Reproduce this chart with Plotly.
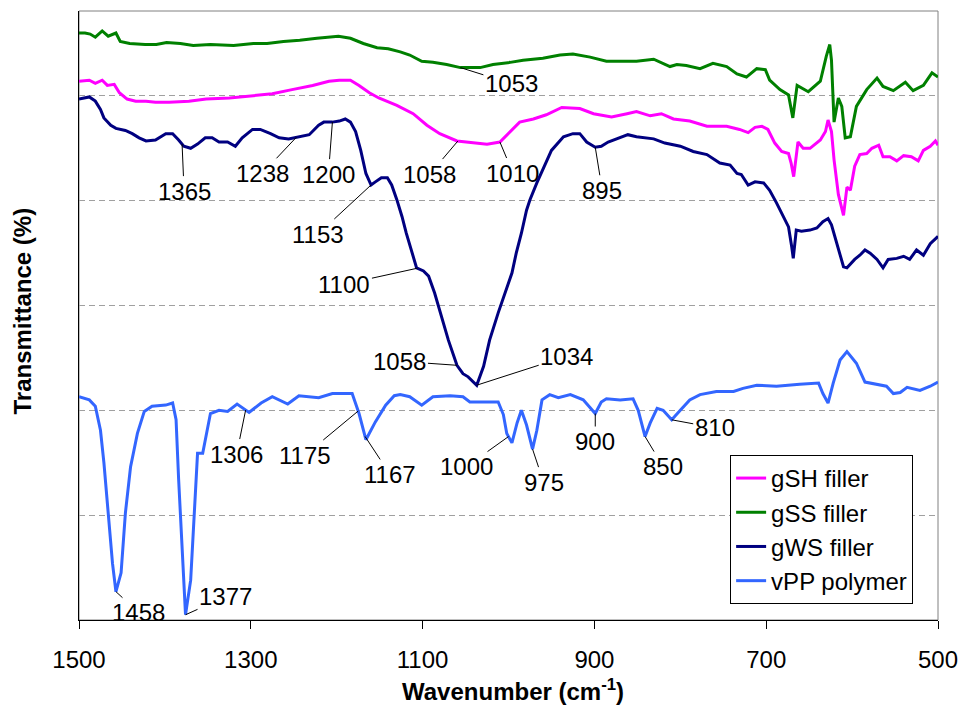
import numpy as np
import plotly.graph_objects as go

# FTIR spectra, wavenumber (cm-1) vs. transmittance (offset, arbitrary units)
wn_gsh = [1500, 1488, 1481, 1473, 1467, 1459, 1453, 1444, 1434, 1422, 1411, 1395, 1372, 1352, 1325,
          1298, 1275, 1252, 1228, 1209, 1197, 1184, 1174, 1162, 1151, 1130, 1111, 1095, 1080, 1060,
          1041, 1025, 1010, 998, 987, 971, 956, 938, 917, 901, 880, 862, 851, 835, 822, 808, 789,
          769, 746, 731, 721, 713, 705, 698, 690, 682, 674, 671, 668, 663, 657, 649, 637, 631, 628,
          624, 621, 616, 610, 606, 602, 597, 591, 583, 577, 569, 564, 556, 548, 540, 531, 523, 517,
          509, 503, 500]
t_gsh = [51.4, 51.5, 51.2, 51.5, 51.0, 51.1, 50.3, 49.7, 49.5, 49.5, 49.4, 49.4, 49.5, 49.7, 49.8,
         50.0, 50.2, 50.6, 51.0, 51.4, 51.5, 51.5, 51.0, 50.3, 49.8, 49.1, 48.3, 47.2, 46.4, 45.7,
         45.5, 45.4, 45.6, 46.6, 47.5, 47.8, 48.2, 48.9, 48.8, 48.3, 48.0, 48.3, 48.5, 48.1, 48.3, 47.8, 47.6,
         47.1, 47.1, 46.8, 46.5, 47.0, 47.1, 46.8, 45.5, 44.7, 44.5, 43.6, 42.3, 45.6, 45.0, 45.0, 45.8, 46.6, 47.7,
         46.6, 43.9, 40.6, 38.6, 41.3, 41.0, 43.3, 44.4, 44.5, 45.0, 45.3, 44.2, 44.2, 43.8, 44.3, 44.2, 43.8, 44.8,
         45.2, 45.7, 45.3]

wn_gss = [1500, 1493, 1487, 1481, 1473, 1466, 1457, 1452, 1441, 1423, 1410, 1398, 1382, 1367, 1347,
          1320, 1297, 1281, 1262, 1243, 1223, 1198, 1184, 1169, 1153, 1140, 1126, 1115, 1101, 1088,
          1072, 1056, 1033, 1018, 998, 983, 960, 940, 925, 905, 886, 862, 851, 831, 812, 804, 793,
          777, 762, 746, 734, 723, 711, 701, 696, 684, 674, 669, 664, 651, 637, 630, 626, 624, 621,
          616, 612, 608, 602, 595, 583, 571, 564, 552, 538, 529, 517, 507, 500]
t_gss = [56.0, 56.0, 55.9, 55.6, 56.2, 55.7, 56.0, 55.2, 55.0, 54.9, 54.9, 55.1, 55.0, 54.8, 54.9,
         54.8, 55.0, 55.0, 55.2, 55.3, 55.5, 55.7, 55.5, 55.0, 54.6, 54.5, 54.2, 53.9, 53.3, 53.2,
         53.0, 52.7, 52.7, 53.0, 53.2, 53.4, 53.6, 53.9, 54.0, 53.7, 53.3, 53.3, 53.3, 53.5, 52.8, 53.0, 52.9,
         52.6, 53.1, 52.8, 52.1, 51.8, 52.6, 52.5, 51.5, 50.6, 50.1, 47.9, 51.0, 50.4, 51.4, 53.8, 54.9, 53.4, 47.5,
         49.8, 49.0, 46.0, 46.1, 49.0, 50.6, 51.7, 50.9, 50.5, 51.3, 50.5, 51.0, 52.2, 51.8]

wn_gws = [1500, 1488, 1481, 1475, 1471, 1463, 1457, 1452, 1446, 1438, 1430, 1422, 1411, 1399, 1391,
          1384, 1378, 1370, 1362, 1353, 1345, 1337, 1327, 1318, 1310, 1298, 1289, 1277, 1267, 1256,
          1244, 1232, 1221, 1215, 1205, 1197, 1190, 1184, 1178, 1172, 1166, 1160, 1155, 1148, 1141,
          1136, 1130, 1124, 1119, 1113, 1107, 1099, 1093, 1086, 1078, 1070, 1060, 1053, 1047, 1037,
          1029, 1022, 1012, 1004, 996, 991, 985, 979, 975, 967, 958, 950, 936, 925, 917, 909, 899,
          892, 884, 874, 861, 851, 831, 818, 800, 785, 769, 754, 742, 734, 729, 721, 713, 703, 696,
          688, 680, 674, 670.3, 668.5, 665, 659, 649, 641, 634, 628, 624, 620, 616, 610, 606, 602,
          597, 591, 585, 579, 571, 564, 558, 548, 540, 533, 525, 517, 509, 500]
t_gws = [49.7, 49.9, 49.5, 48.7, 47.9, 47.2, 46.9, 46.8, 46.7, 46.4, 46.0, 45.7, 45.8, 46.4, 46.4,
         45.8, 45.2, 45.0, 45.4, 46.0, 46.0, 45.6, 45.6, 45.2, 46.0, 46.8, 46.8, 46.4, 46.0, 45.9,
         46.1, 46.3, 47.2, 47.5, 47.5, 47.6, 47.8, 47.5, 46.6, 44.8, 42.6, 41.5, 41.8, 42.2, 42.2,
         41.5, 40.1, 38.5, 36.9, 35.3, 33.6, 33.3, 32.8, 31.2, 28.9, 26.7, 24.3, 23.5, 23.2, 22.4,
         24.2, 26.7, 29.3, 31.2, 33.1, 35.0, 36.9, 39.1, 40.1, 41.7, 43.4, 44.8, 46.1, 46.4, 46.4, 45.6, 45.1,
         45.2, 45.6, 45.9, 46.3, 46.1, 45.9, 45.5, 45.2, 44.7, 44.4, 43.6, 43.4, 42.6, 42.5, 41.5, 41.8, 41.7, 41.0,
         39.8, 38.5, 37.5, 35.6, 34.5, 37.2, 37.1, 37.2, 37.4, 38.0, 38.3, 37.7, 36.6, 35.3, 33.7, 33.6, 34.0,
         34.4, 34.8, 35.3, 35.0, 34.4, 33.6, 34.4, 34.5, 34.7, 34.4, 35.3, 34.8, 35.9, 36.6]

wn_vpp = [1500, 1488, 1481, 1475, 1471, 1467, 1461, 1457, 1451, 1446, 1440, 1432, 1424, 1415, 1399,
          1391, 1387, 1384, 1380, 1376, 1370, 1366, 1362, 1356, 1352, 1347, 1337, 1327, 1316, 1302,
          1288, 1275, 1257, 1244, 1221, 1205, 1182, 1174, 1166, 1155, 1143, 1133, 1126, 1115, 1101,
          1088, 1068, 1053, 1045, 1029, 1012, 1006, 1002, 996, 990, 985, 979, 972, 967, 961, 952,
          942, 928, 913, 899, 892, 886, 870, 855, 849, 841, 835, 827, 820, 810, 800, 789, 777, 758,
          738, 727, 711, 688, 661, 639, 634, 628, 622, 614, 606, 595, 585, 571, 560, 552, 544, 536,
          521, 509, 500]
t_vpp = [21.3, 21.0, 20.4, 18.1, 15.0, 10.8, 5.4, 2.7, 4.5, 10.2, 14.6, 17.8, 19.9, 20.4, 20.5,
         20.7, 19.1, 13.4, 7.0, 0.5, 3.8, 10.2, 15.9, 15.9, 17.5, 19.7, 20.0, 19.9, 20.6, 19.8,
         20.7, 21.3, 20.6, 21.4, 21.2, 21.6, 21.6, 19.7, 17.2, 18.9, 20.5, 21.4, 21.5, 21.3, 20.5,
         21.3, 21.4, 21.3, 20.8, 20.8, 20.8, 19.6, 17.8, 16.9, 18.8, 20.0, 18.6, 16.3, 18.1, 21.0, 21.5,
         21.2, 21.5, 21.0, 19.7, 20.8, 21.1, 21.0, 21.1, 20.0, 17.5, 18.8, 20.2, 20.0, 19.1, 20.0, 21.0, 21.5, 21.8,
         21.8, 22.1, 22.4, 22.3, 22.5, 22.6, 21.6, 20.7, 22.6, 24.8, 25.6, 24.5, 22.7, 22.5, 22.3, 21.6, 21.7, 22.2,
         21.9, 22.3, 22.7]

series_names = ["gSH filler", "gSS filler", "gWS filler", "vPP polymer"]
series_colors = ["#FF00FF", "#008000", "#000080", "#3366FF"]
series_x = [wn_gsh, wn_gss, wn_gws, wn_vpp]
series_y = [t_gsh, t_gss, t_gws, t_vpp]

# Band labels: text, spectrum index, wavenumber the leader points at, text offset (px)
band_text = ["1053", "1365", "1238", "1200", "1058", "1010", "895", "1153", "1100", "1058", "1034",
             "1306", "1175", "1167", "1000", "975", "900", "850", "810", "1458", "1377"]
band_series = [1, 2, 2, 2, 0, 0, 2, 2, 2, 2, 2,
               3, 3, 3, 3, 3, 3, 3, 3, 3, 3]
band_wn = [1056, 1380, 1247, 1205, 1059, 1010, 899, 1160, 1106, 1060, 1037,
           1306, 1175, 1167, 1000, 972, 899, 841, 810, 1457, 1376]
band_dx = [51, 2, -34, -4, -28, 13, 7, -53, -73, -57, 90,
           -9, -53, 25, -42, 11, 0, 18, 43, 23, 40]
band_dy = [16, 47, 36, 52, 33, 31, 43, 49, 16, -4, -29,
           44, 44, 38, 30, 33, 28, 30, 8, 21, -18]

FONT = "Liberation Sans, Arial, sans-serif"

fig = go.Figure()
for name, color, xs, ys in zip(series_names, series_colors, series_x, series_y):
    fig.add_trace(go.Scatter(x=xs, y=ys, mode="lines", name=name,
                             line=dict(color=color, width=3)))

annotations = []
for text, si, w, dx, dy in zip(band_text, band_series, band_wn, band_dx, band_dy):
    xs = np.array(series_x[si], dtype=float)[::-1]
    ys = np.array(series_y[si], dtype=float)[::-1]
    yv = float(np.interp(w, xs, ys))
    annotations.append(dict(x=w, y=yv, xref="x", yref="y", text=text,
                            showarrow=True, arrowhead=0, arrowwidth=1, arrowcolor="black",
                            ax=dx, ay=dy, standoff=0,
                            font=dict(family=FONT, size=24, color="black")))

annotations.append(dict(x=0.505, y=-0.115, xref="paper", yref="paper", showarrow=False,
                        text="<b>Wavenumber (cm<sup>-1</sup>)</b>", xanchor="center", yanchor="middle",
                        font=dict(family=FONT, size=24, color="black")))
annotations.append(dict(x=-0.066, y=0.507, xref="paper", yref="paper", showarrow=False,
                        text="<b>Transmittance (%)</b>", textangle=-90, xanchor="center", yanchor="middle",
                        font=dict(family=FONT, size=24, color="black")))

fig.update_layout(
    template="none",
    width=961, height=706,
    margin=dict(l=79, r=23, t=11, b=86, autoexpand=False),
    paper_bgcolor="white", plot_bgcolor="white",
    font=dict(family=FONT, size=24, color="black"),
    showlegend=True,
    legend=dict(x=0.758, y=0.271, xanchor="left", yanchor="top",
                bgcolor="white", bordercolor="black", borderwidth=1,
                font=dict(family=FONT, size=24, color="black"),
                itemwidth=30, tracegroupgap=0),
    annotations=annotations,
    shapes=[dict(type="rect", xref="paper", yref="paper", x0=0, x1=1, y0=0, y1=1,
                 line=dict(color="#808080", width=1), layer="below")],
)
fig.update_xaxes(range=[1500, 500], tickvals=[1500, 1300, 1100, 900, 700, 500],
                 ticks="outside", ticklen=8, tickwidth=1, tickcolor="black",
                 showline=True, linecolor="black", linewidth=1, automargin=False,
                 showgrid=False, zeroline=False, ticklabelstandoff=10,
                 tickfont=dict(family=FONT, size=24, color="black"))
fig.update_yaxes(range=[0, 58.1], tick0=0, dtick=10, showticklabels=False, ticks="",
                 showgrid=True, gridcolor="#A0A0A0", gridwidth=1, griddash="6px,4px",
                 showline=True, linecolor="black", linewidth=1, zeroline=False, automargin=False)

fig.write_html("out.html")
